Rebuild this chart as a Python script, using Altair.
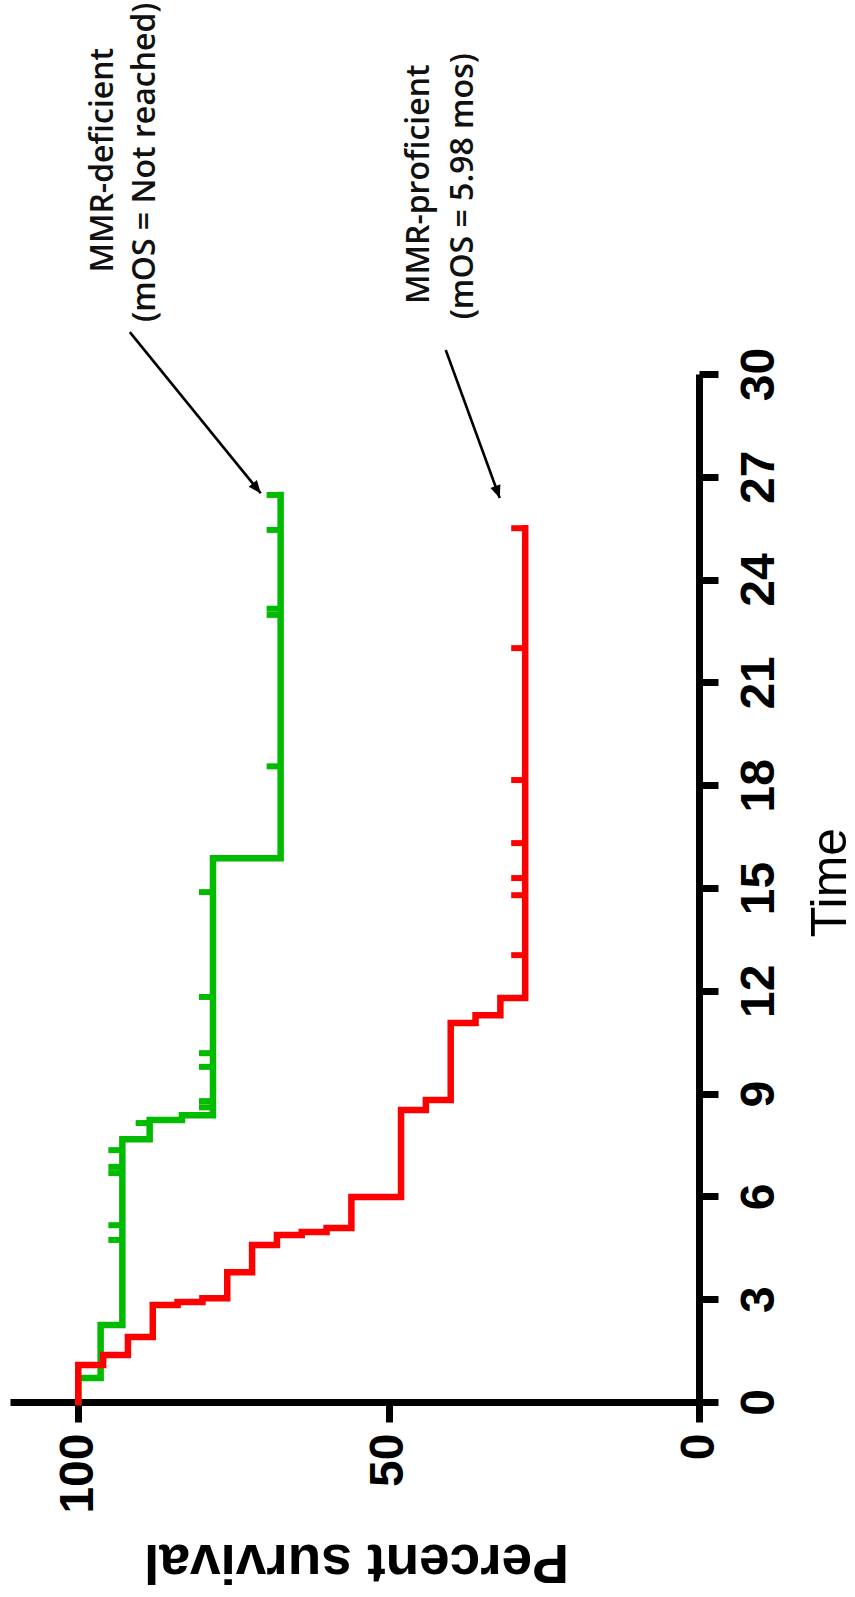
import altair as alt
import pandas as pd

# ---------------- data ----------------
# MMR-deficient (green)
def_event_time = [0.70, 2.25, 7.67, 8.23, 8.37, 15.87]
def_event_surv = [96.4, 92.9, 88.5, 83.3, 78.3, 67.4]
def_censor_time = [4.73, 5.16, 6.68, 6.86, 7.35, 8.14, 8.60, 8.78, 9.78, 10.18,
                   11.82, 14.88, 18.55, 22.97, 23.15, 25.45, 26.47]
def_end_time = 26.47

# MMR-proficient (red)
pro_event_time = [1.08, 1.37, 1.90, 2.83, 2.92, 3.03, 3.79, 4.58, 4.87, 4.96,
                  5.08, 5.98, 8.52, 8.81, 11.06, 11.29, 11.79]
pro_event_surv = [96, 92, 88, 84, 80, 76, 72, 68, 64, 60, 56, 48, 44, 40, 36, 32, 28]
pro_censor_time = [13.04, 14.79, 15.29, 16.31, 18.15, 22.0, 25.5]
pro_end_time = 25.5

group_names = ["MMR-deficient", "MMR-proficient"]
group_colors = ["#00BB00", "#FF0000"]

time_ticks = [0, 3, 6, 9, 12, 15, 18, 21, 24, 27, 30]
surv_ticks = [0, 50, 100]

# annotations (data coordinates: survival %, time)
ann_text = ["MMR-deficient", "(mOS = Not reached)",
            "MMR-proficient", "(mOS = 5.98 mos)"]
ann_surv = [96.0, 89.3, 45.1, 38.0]
ann_time = [36.24, 36.18, 35.54, 35.48]
arrow_s1 = [91.7, 40.8]
arrow_t1 = [31.22, 30.7]
arrow_s2 = [70.6, 32.1]
arrow_t2 = [26.52, 26.38]
arrow_angle = [140.9, 160.0]


# ---------------- build tables ----------------
def curve_rows(name, times, survs, end_time):
    rows = [{"group": name, "t": 0.0, "s": 100.0}]
    for t, s in zip(times, survs):
        rows.append({"group": name, "t": t, "s": s})
    rows.append({"group": name, "t": end_time, "s": survs[-1]})
    return rows


def censor_rows(name, ctimes, times, survs):
    rows = []
    for c in ctimes:
        level = 100.0
        for t, s in zip(times, survs):
            if t <= c:
                level = s
        rows.append({"group": name, "t": c, "s": level})
    return rows


curves = pd.DataFrame(
    curve_rows(group_names[0], def_event_time, def_event_surv, def_end_time)
    + curve_rows(group_names[1], pro_event_time, pro_event_surv, pro_end_time)
)
censors = pd.DataFrame(
    censor_rows(group_names[0], def_censor_time, def_event_time, def_event_surv)
    + censor_rows(group_names[1], pro_censor_time, pro_event_time, pro_event_surv)
)
ann = pd.DataFrame({"s": ann_surv, "t": ann_time, "label": ann_text})
arrows = pd.DataFrame({"s": arrow_s1, "t": arrow_t1, "s2": arrow_s2,
                       "t2": arrow_t2, "ang": arrow_angle})
heads = pd.DataFrame({"s": arrow_s2, "t": arrow_t2, "ang": arrow_angle})

FONT = "Liberation Sans"

x_scale = alt.Scale(domain=[0, 111], reverse=True, nice=False, zero=False)
y_scale = alt.Scale(domain=[0, 30], nice=False, zero=False)

x_axis = alt.Axis(
    orient="bottom", values=surv_ticks, grid=False,
    labelAngle=270, labelAlign="right", labelBaseline="middle",
    labelFont=FONT, labelFontWeight="bold", labelFontSize=48, labelColor="black",
    labelPadding=11, tickSize=20, tickWidth=7, tickColor="black",
    domainWidth=7, domainColor="black",
    title="Percent survival", titleFont=FONT, titleFontWeight="bold",
    titleFontSize=55, titleColor="black", titleAngle=180,
    titleAlign="center", titleBaseline="alphabetic", titleX=346, titleY=142,
)
y_axis = alt.Axis(
    orient="right", values=time_ticks, grid=False,
    labelAngle=270, labelAlign="center", labelBaseline="alphabetic",
    labelFont=FONT, labelFontWeight="bold", labelFontSize=48, labelColor="black",
    labelPadding=55, tickSize=19, tickWidth=7, tickColor="black",
    domainWidth=7, domainColor="black",
    title="Time", titleFont=FONT, titleFontWeight="normal",
    titleFontSize=50, titleColor="black", titleAngle=270,
    titleAlign="center", titleBaseline="alphabetic", titleX=146, titleY=508,
)

color = alt.Color("group:N", scale=alt.Scale(domain=group_names, range=group_colors),
                  legend=None)

lines = alt.Chart(curves).mark_line(interpolate="step-before", strokeWidth=6.5,
                                    strokeJoin="miter", strokeCap="square").encode(
    x=alt.X("s:Q", scale=x_scale, axis=x_axis),
    y=alt.Y("t:Q", scale=y_scale, axis=y_axis),
    order=alt.Order("t:Q"),
    color=color,
)

ticks = alt.Chart(censors).mark_rule(strokeWidth=6, x2Offset=-14).encode(
    x=alt.X("s:Q", scale=x_scale),
    x2="s:Q",
    y=alt.Y("t:Q", scale=y_scale),
    color=color,
)

texts = alt.Chart(ann).mark_text(
    angle=270, align="center", baseline="middle", font="Open Sans",
    fontSize=32, fontWeight=600, color="#111111"
).encode(
    x=alt.X("s:Q", scale=x_scale),
    y=alt.Y("t:Q", scale=y_scale),
    text="label:N",
)

arrow_lines = alt.Chart(arrows).mark_rule(strokeWidth=2.6, color="black").encode(
    x=alt.X("s:Q", scale=x_scale), x2="s2:Q",
    y=alt.Y("t:Q", scale=y_scale), y2="t2:Q",
)

arrow_heads = alt.Chart(heads).mark_point(
    shape="M0,0L-0.42,1L0.42,1Z", filled=True, size=640, color="black", opacity=1
).encode(
    x=alt.X("s:Q", scale=x_scale),
    y=alt.Y("t:Q", scale=y_scale),
    angle=alt.Angle("ang:Q", scale=None),
)

chart = alt.layer(lines, ticks, arrow_lines, arrow_heads, texts).properties(
    width=689, height=1028,
    padding={"left": 10, "top": 374, "right": 156, "bottom": 195},
    autosize=alt.AutoSizeParams(type="none"),
    background="white",
).configure_view(stroke=None)

chart.save("out.html", embed_options={"renderer": "svg", "actions": False})
